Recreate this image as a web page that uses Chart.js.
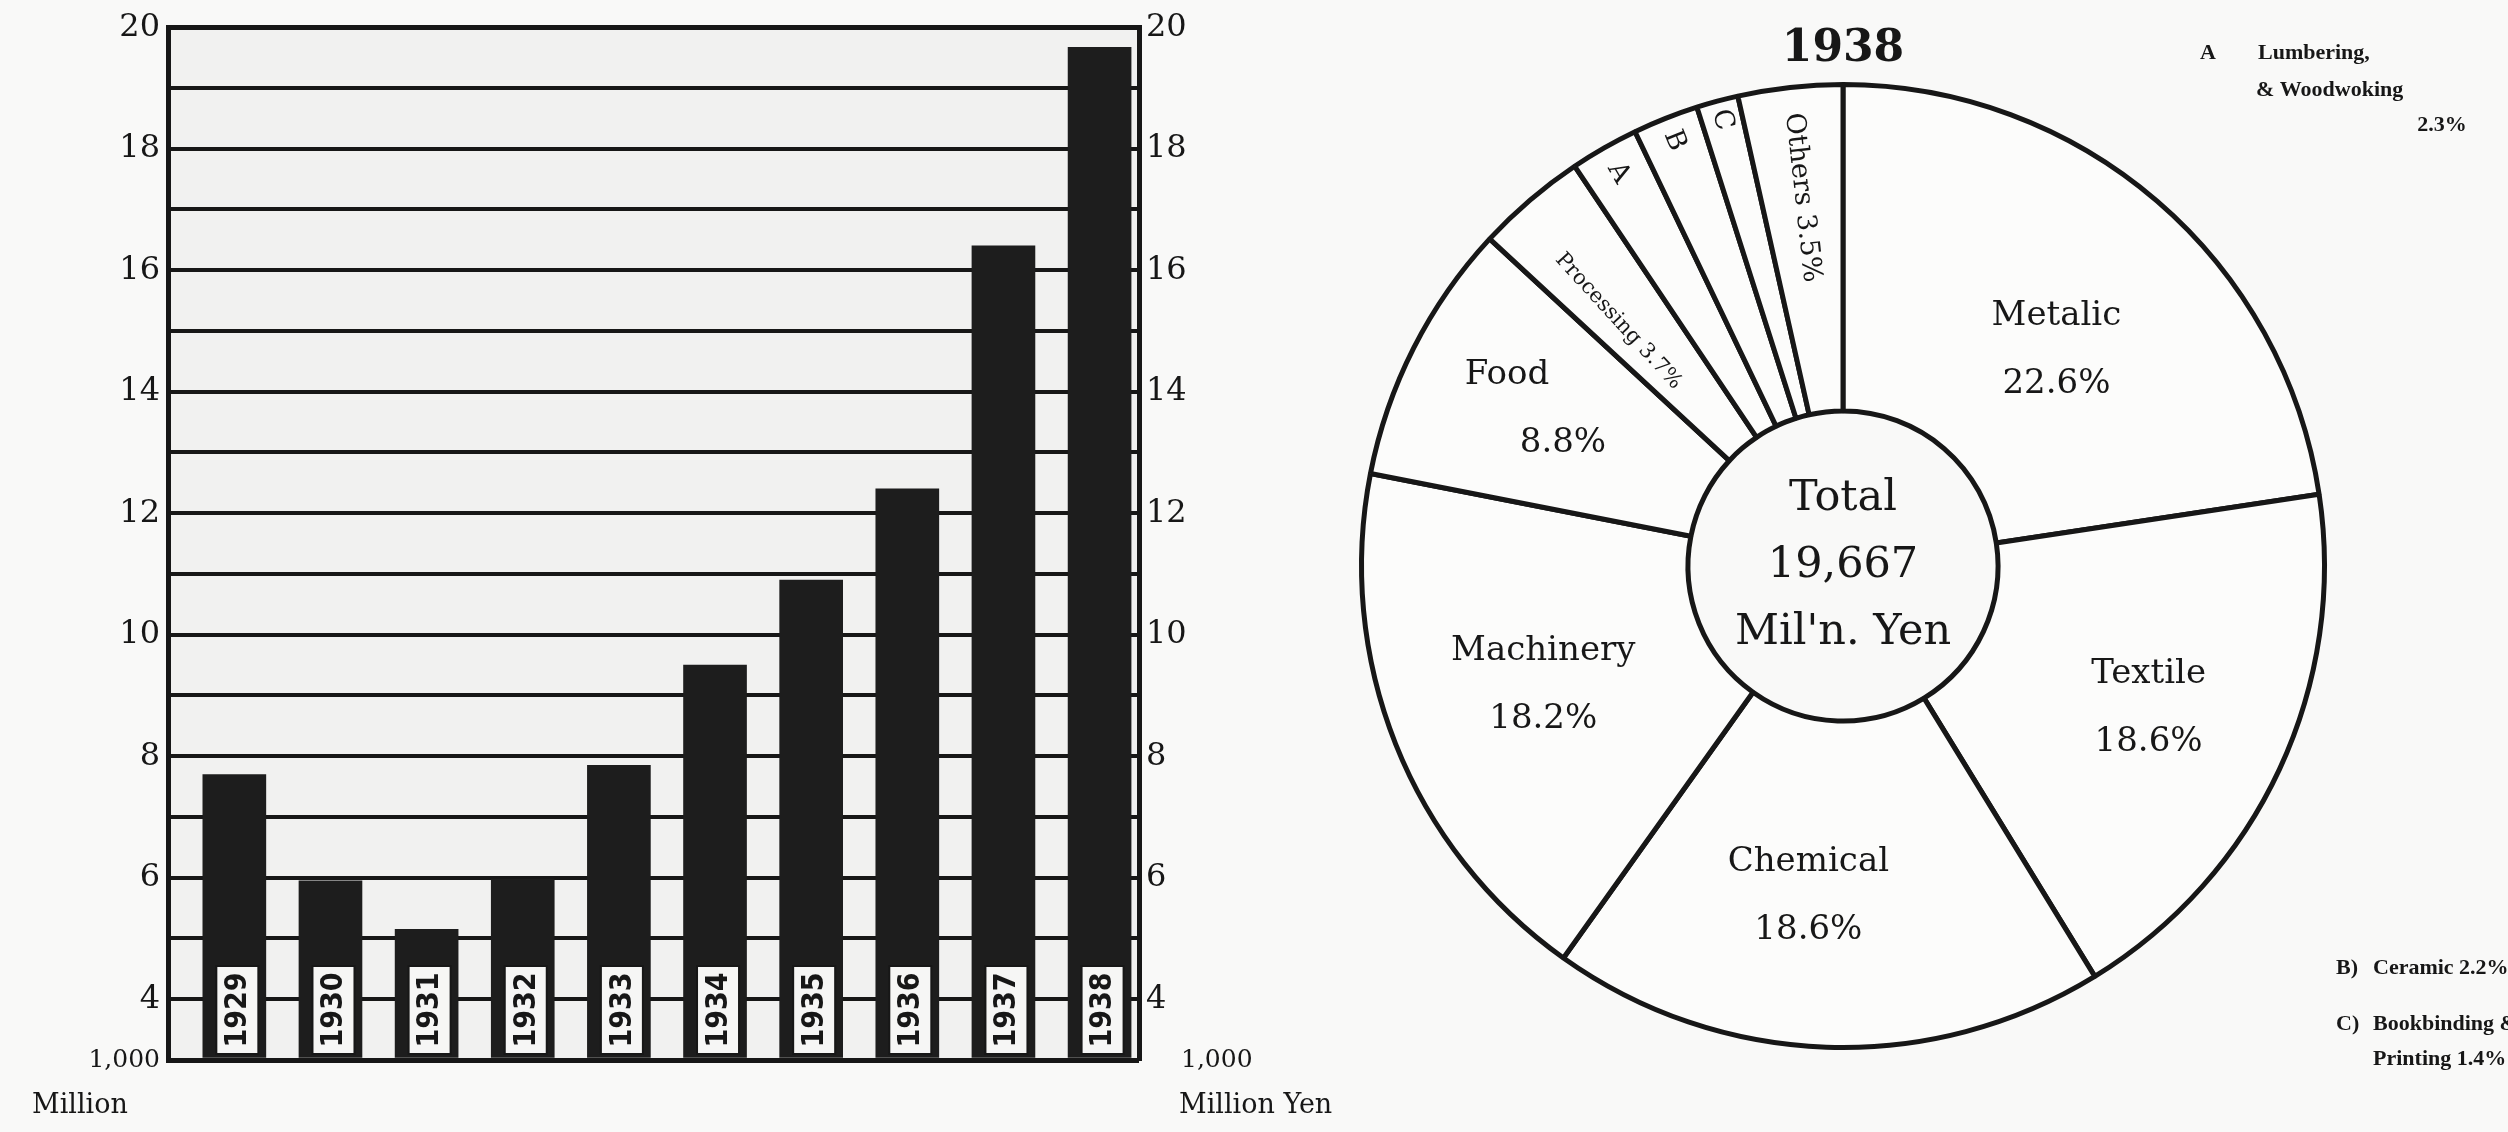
<!DOCTYPE html>
<html>
<head>
<meta charset="utf-8">
<script src="https://cdn.jsdelivr.net/npm/chart.js@4.4.1/dist/chart.umd.min.js"></script>
<style>
  html, body { margin: 0; padding: 0; background: #f9f9f8; }
  #sheet { position: relative; width: 2508px; height: 1132px; overflow: hidden; }
  #bars { position: absolute; left: 0; top: 0; }
  #pie { position: absolute; left: 1300px; top: 0; }
</style>
</head>
<body>
<div id="sheet">
  <canvas id="bars" width="1400" height="1132"></canvas>
  <canvas id="pie" width="1208" height="1132"></canvas>
</div>
<script>
// ---- data ----
const years = [1929, 1930, 1931, 1932, 1933, 1934, 1935, 1936, 1937, 1938];
// manufacturing output, 1,000 million yen
const output = [7.7, 5.95, 5.15, 5.98, 7.85, 9.5, 10.9, 12.4, 16.4, 19.667];
const yTickLabels = [4, 6, 8, 10, 12, 14, 16, 18, 20];
const yBaseLabel = '1,000';
const unitLeft = 'Million';
const unitRight = 'Million Yen';

// 1938 breakdown by industry, percent of total
const pieYear = '1938';
const sectors = ['Metalic', 'Textile', 'Chemical', 'Machinery', 'Food', 'Processing', 'A', 'B', 'C', 'Others'];
const shares = [22.6, 18.6, 18.6, 18.2, 8.8, 3.7, 2.3, 2.2, 1.4, 3.5];
const keyNames = { A: ['Lumbering,', '& Woodwoking'], B: ['Ceramic'], C: ['Bookbinding &', 'Printing'] };

// ---- styling ----
const ink = '#171717';
const serif = '"DejaVu Serif", "Liberation Serif", serif';
const noteFont = 'bold 22px "Liberation Serif", "DejaVu Serif", serif';
const Y_MIN = 3, Y_MAX = 20;
const pct = v => v.toFixed(1) + '%';

// light paper tone behind the bar plot
const plotPaper = {
  id: 'plotPaper',
  beforeDraw(chart) {
    const { ctx, chartArea: a } = chart;
    ctx.save();
    ctx.fillStyle = '#f1f1f0';
    ctx.fillRect(a.left, a.top, a.right - a.left, a.bottom - a.top);
    ctx.restore();
  }
};

// white year tags at the foot of each bar
const yearTags = {
  id: 'yearTags',
  afterDatasetsDraw(chart) {
    const { ctx } = chart;
    const bottom = chart.scales.y.getPixelForValue(Y_MIN);
    chart.getDatasetMeta(0).data.forEach((bar, i) => {
      const w = 42, h = 88;
      const cx = bar.x + 3, yb = bottom - 6, yt = yb - h;
      ctx.save();
      ctx.fillStyle = '#f6f6f5';
      ctx.fillRect(cx - w / 2, yt, w, h);
      ctx.lineWidth = 2;
      ctx.strokeStyle = ink;
      ctx.strokeRect(cx - w / 2, yt, w, h);
      ctx.translate(cx, yt + h / 2);
      ctx.rotate(-Math.PI / 2);
      ctx.font = 'bold 30px "DejaVu Sans Condensed", "DejaVu Sans", sans-serif';
      ctx.textAlign = 'center';
      ctx.textBaseline = 'middle';
      ctx.fillStyle = ink;
      ctx.fillText(String(years[i]), 0, 1);
      ctx.restore();
    });
  }
};

// base value and unit captions at the foot of both axes
const unitCaptions = {
  id: 'unitCaptions',
  afterDraw(chart) {
    const { ctx, chartArea: a } = chart;
    const yb = chart.scales.y.getPixelForValue(Y_MIN);
    ctx.save();
    ctx.fillStyle = ink;
    ctx.textBaseline = 'middle';
    ctx.font = '25px ' + serif;
    ctx.textAlign = 'right';
    ctx.fillText(yBaseLabel, a.left - 8, yb);
    ctx.textAlign = 'left';
    ctx.fillText(yBaseLabel, a.right + 42, yb);
    ctx.font = '27px ' + serif;
    ctx.fillText(unitLeft, 32, yb + 46);
    ctx.fillText(unitRight, a.right + 40, yb + 46);
    ctx.restore();
  }
};

const tickText = v => (yTickLabels.includes(v) ? String(v) : '');

new Chart(document.getElementById('bars'), {
  type: 'bar',
  data: {
    datasets: [{
      data: years.map((yr, i) => ({ x: yr, y: output[i] })),
      backgroundColor: '#1d1d1d',
      borderWidth: 0,
      barThickness: 63,
      base: Y_MIN
    }]
  },
  options: {
    responsive: false,
    animation: false,
    layout: { padding: { top: 27, bottom: 72, left: 0, right: 150 } },
    plugins: { legend: { display: false }, tooltip: { enabled: false } },
    scales: {
      x: { type: 'linear', min: 1928.31, max: 1938.41, offset: false, display: false },
      y: {
        position: 'left', min: Y_MIN, max: Y_MAX,
        afterFit: s => { s.width = 168; },
        ticks: { stepSize: 1, padding: 8, color: ink, font: { family: serif, size: 32 }, callback: tickText },
        grid: {
          color: ink, drawTicks: false,
          lineWidth: c => (c.tick && (c.tick.value === Y_MAX || c.tick.value === Y_MIN)) ? 5 : 4
        },
        border: { display: true, color: ink, width: 5 }
      },
      y2: {
        position: 'right', min: Y_MIN, max: Y_MAX,
        afterFit: s => { s.width = 111; },
        ticks: { stepSize: 1, padding: 7, color: ink, font: { family: serif, size: 32 }, callback: tickText },
        grid: { display: false, drawTicks: false },
        border: { display: true, color: ink, width: 5 }
      }
    }
  },
  plugins: [plotPaper, yearTags, unitCaptions]
});

// ---- doughnut ----
// where each sector's caption sits: fraction of outer radius, angular nudge (deg),
// horizontal nudges for the name / percent lines
const sliceLayout = {
  Metalic:    { r: 0.63, da: 4 },
  Textile:    { r: 0.70, da: 0 },
  Chemical:   { r: 0.69, da: 4 },
  Machinery:  { r: 0.67, da: 0 },
  Food:       { r: 0.72, da: 0, dx1: -27, dx2: 29 },
  Processing: { r: 0.69, da: -2, radial: true, size: 21 },
  A:          { r: 0.94, radial: true, size: 27 },
  B:          { r: 0.95, radial: true, size: 27 },
  C:          { r: 0.96, radial: true, size: 27 },
  Others:     { r: 0.77, radial: true, size: 27 }
};

const pieText = {
  id: 'pieText',
  afterDatasetsDraw(chart) {
    const { ctx } = chart;
    const arcs = chart.getDatasetMeta(0).data;
    let cx = 0, cy = 0;
    ctx.save();
    ctx.fillStyle = ink;
    ctx.textAlign = 'center';
    ctx.textBaseline = 'middle';
    arcs.forEach((arc, i) => {
      const p = arc.getProps(['x', 'y', 'startAngle', 'endAngle', 'outerRadius'], true);
      cx = p.x; cy = p.y;
      const name = sectors[i];
      const L = sliceLayout[name];
      const mid = (p.startAngle + p.endAngle) / 2 + (L.da || 0) * Math.PI / 180;
      const px = p.x + Math.cos(mid) * L.r * p.outerRadius;
      const py = p.y + Math.sin(mid) * L.r * p.outerRadius;
      if (L.radial) {
        const txt = keyNames[name] ? name : name + ' ' + pct(shares[i]);
        ctx.save();
        ctx.translate(px, py);
        ctx.rotate(mid + Math.PI);
        ctx.font = L.size + 'px ' + serif;
        ctx.fillText(txt, 0, 0);
        ctx.restore();
      } else {
        ctx.font = '34px ' + serif;
        ctx.fillText(name, px + (L.dx1 || 0), py - 34);
        ctx.fillText(pct(shares[i]), px + (L.dx2 || 0), py + 34);
      }
    });

    // total in the hole
    ctx.font = '43px ' + serif;
    const total = Math.round(output[output.length - 1] * 1000).toLocaleString('en-US');
    ctx.fillText('Total', cx, cy - 67);
    ctx.fillText(total, cx, cy);
    ctx.fillText("Mil'n. Yen", cx, cy + 67);

    // year heading
    ctx.font = 'bold 44px ' + serif;
    ctx.fillText(pieYear, cx, 50);

    // key for the small sectors
    const share = k => pct(shares[sectors.indexOf(k)]);
    ctx.font = noteFont;
    ctx.textAlign = 'left';
    ctx.fillText('A', 900, 53);
    ctx.fillText(keyNames.A[0], 958, 53);
    ctx.fillText(keyNames.A[1], 956, 90);
    ctx.textAlign = 'center';
    ctx.fillText(share('A'), 1142, 125);
    ctx.textAlign = 'left';
    ctx.fillText('B)', 1036, 968);
    ctx.fillText(keyNames.B[0] + ' ' + share('B'), 1073, 968);
    ctx.fillText('C)', 1036, 1024);
    ctx.fillText(keyNames.C[0], 1073, 1024);
    ctx.fillText(keyNames.C[1] + ' ' + share('C'), 1073, 1059);
    ctx.restore();
  }
};

new Chart(document.getElementById('pie'), {
  type: 'doughnut',
  data: {
    labels: sectors,
    datasets: [{
      data: shares,
      backgroundColor: '#fcfcfb',
      borderColor: ink,
      borderWidth: 5,
      borderAlign: 'center',
      hoverOffset: 0
    }]
  },
  options: {
    responsive: false,
    animation: false,
    cutout: 155,
    rotation: 0,
    layout: { padding: { left: 59, right: 181, top: 82, bottom: 82 } },
    plugins: { legend: { display: false }, tooltip: { enabled: false } }
  },
  plugins: [pieText]
});
</script>
</body>
</html>
